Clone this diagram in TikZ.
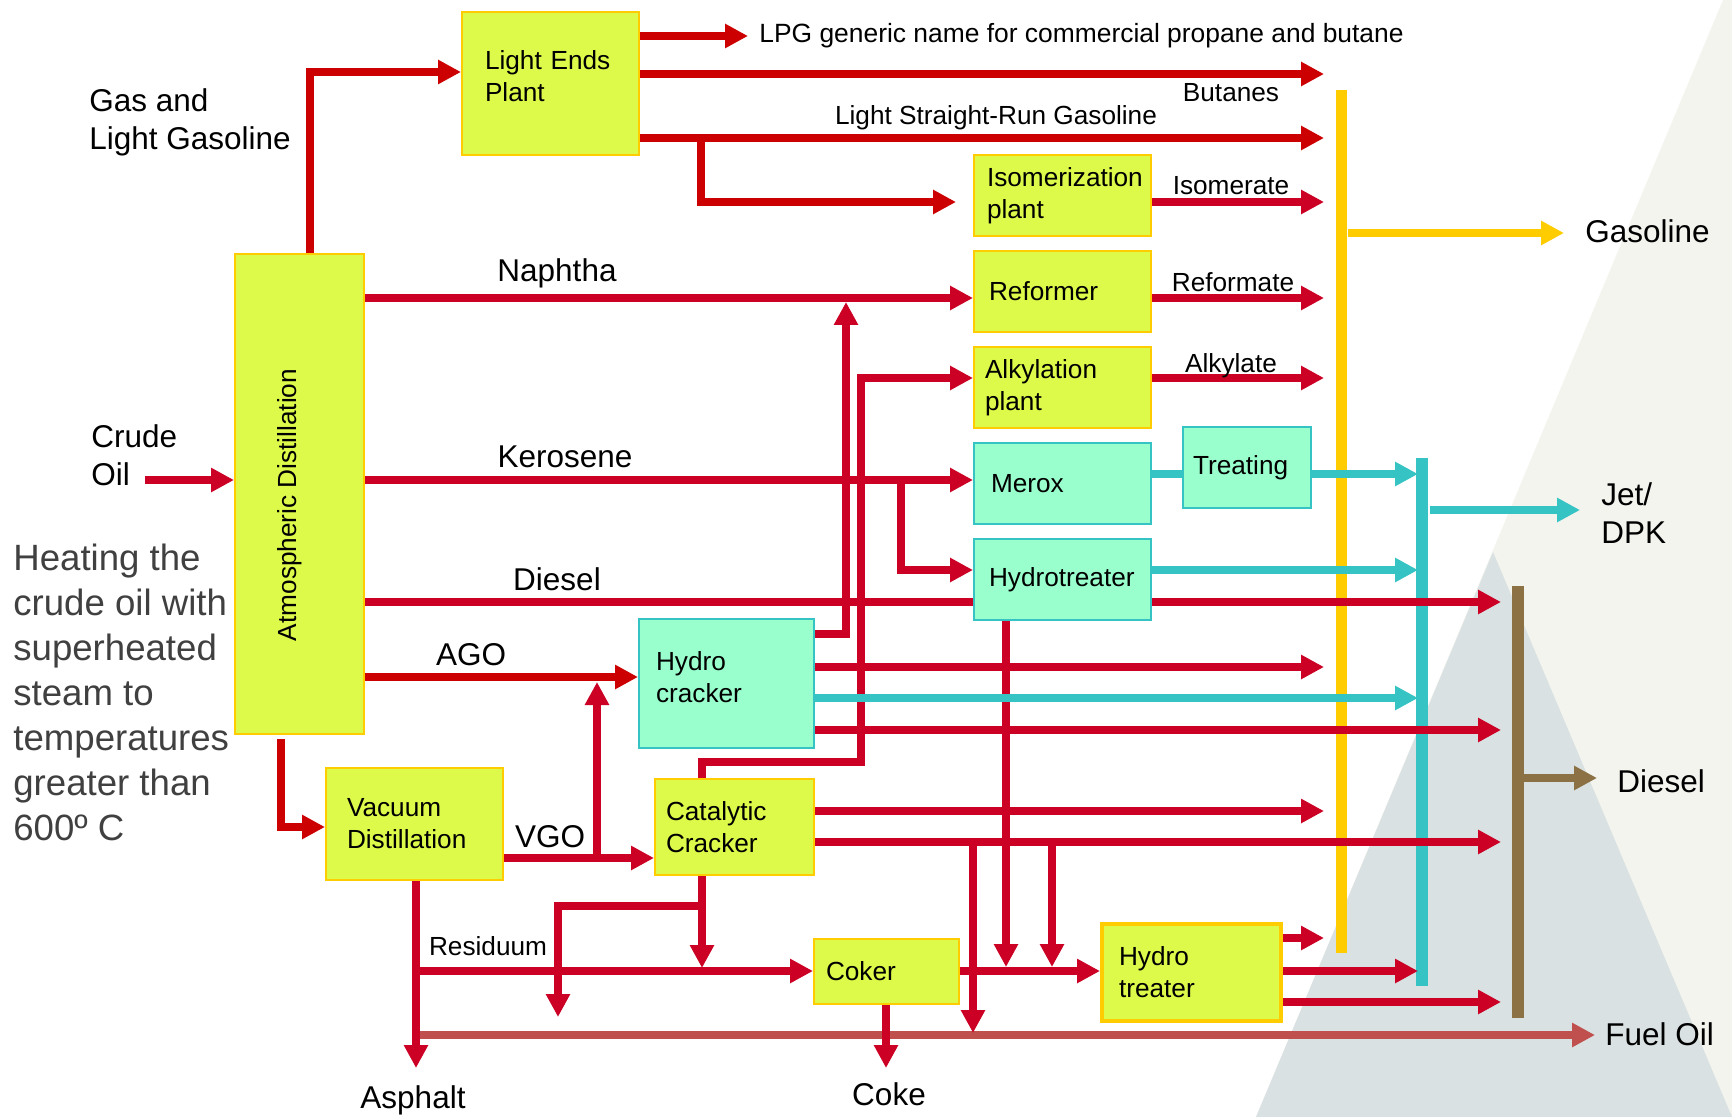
\documentclass[tikz,border=0pt]{standalone}
\usepackage{fontspec}
\setmainfont{Liberation Sans}
\usetikzlibrary{arrows.meta}
\definecolor{yFill}{HTML}{DDF94A}
\definecolor{yLine}{HTML}{FFCC00}
\definecolor{cFill}{HTML}{99FFCC}
\definecolor{cLine}{HTML}{36C3C3}
\definecolor{redA}{HTML}{CC0000}
\definecolor{redB}{HTML}{CC0025}
\definecolor{cGold}{HTML}{FFCC00}
\definecolor{cBrown}{HTML}{8B7143}
\definecolor{cFuel}{HTML}{C0504D}
\definecolor{cBeige}{HTML}{F3F4EE}
\definecolor{cTri}{HTML}{D9E1E2}
\definecolor{cGrayT}{HTML}{404040}
\newcommand\szS{\fontsize{13.1}{16}\selectfont\hyphenpenalty=10000 }
\newcommand\szL{\fontsize{15.75}{19}\selectfont}
\newcommand\szH{\fontsize{18.3}{22.5}\selectfont}
\newcommand\szP{\fontsize{13.2}{16}\selectfont}
\begin{document}
\begin{tikzpicture}[x=0.5pt,y=-0.5pt,
  arrhd/.style={-{Triangle[length=11.5pt,width=11.5pt]}},
  redln/.style={draw=redB,line width=3.6pt},
  redlnA/.style={draw=redA,line width=3.6pt},
  redar/.style={redln,arrhd},
  redarA/.style={redlnA,arrhd},
  cyanln/.style={draw=cLine,line width=3.6pt},
  cyanar/.style={cyanln,arrhd},
  goldar/.style={draw=cGold,line width=3.8pt,arrhd},
  brownar/.style={draw=cBrown,line width=3.8pt,arrhd},
  fuelar/.style={draw=cFuel,line width=3.8pt,arrhd},
  ybox/.style={draw=yLine,fill=yFill,line width=1pt,inner ysep=0pt,align=left,anchor=north west,font=\szS},
  cbox/.style={ybox,draw=cLine,fill=cFill},
  bsize/.style n args={4}{minimum width=#1,minimum height=#2,inner xsep=#3,text width=#4},
  lbl/.style={inner sep=0pt,font=\szS,anchor=base},
  lblL/.style={inner sep=0pt,font=\szL,anchor=base},
  side/.style={inner sep=0pt,font=\szL,align=left,anchor=base west}
]
% background
\fill[white] (0,0) rectangle (1732,1117);
\useasboundingbox (0,0) rectangle (1732,1117);
\fill[cBeige] (1723,0) -- (1732,0) -- (1732,1117) -- (1256,1117) -- cycle;
\fill[cTri] (1493,552) -- (1732,1117) -- (1256,1117) -- cycle;

% collector bars
\node[fill=cGold,inner sep=0pt,minimum width=5.85pt,minimum height=431.5pt,anchor=north] (gbar) at (1341.5,90) {};
\node[fill=cLine,inner sep=0pt,minimum width=6pt,minimum height=264pt,anchor=north] (cbar) at (1422,458) {};
\node[fill=cBrown,inner sep=0pt,minimum width=6pt,minimum height=216pt,anchor=north] (bbar) at (1517.5,586) {};

% boxes
\node[ybox,bsize={88.5pt}{71.5pt}{11.5pt}{65.5pt}] (LE) at (461,11) {Light Ends\\Plant\rule[-7pt]{0pt}{1pt}};
\node[ybox,minimum width=64.5pt,minimum height=240pt] (AD) at (234,253) {};
\node[ybox,bsize={88.5pt}{40.5pt}{6.5pt}{75.5pt}] (ISO) at (973,154) {Isomerization\\plant};
\node[ybox,bsize={88.5pt}{40.5pt}{7.5pt}{73.5pt}] (REF) at (973,250) {Reformer};
\node[ybox,bsize={88.5pt}{40.5pt}{5.5pt}{77.5pt}] (ALK) at (973,346) {Alkylation\\plant};
\node[cbox,bsize={88.5pt}{40.5pt}{8.5pt}{71.5pt}] (MER) at (973,442) {Merox};
\node[cbox,bsize={64pt}{40.5pt}{5pt}{54pt}] (TRT) at (1182,426) {Treating};
\node[cbox,bsize={88.5pt}{40.5pt}{7.5pt}{73.5pt}] (HT) at (973,538) {Hydrotreater};
\node[cbox,bsize={87.5pt}{64.5pt}{8.5pt}{70.5pt}] (HC) at (638,618) {Hydro\\cracker\rule[-6.5pt]{0pt}{1pt}};
\node[ybox,bsize={88.5pt}{56pt}{10.5pt}{67.5pt}] (VAC) at (325,767) {Vacuum\\Distillation};
\node[ybox,bsize={79.5pt}{48pt}{5.5pt}{68.5pt}] (CC) at (654,778) {Catalytic\\Cracker};
\node[ybox,bsize={72.5pt}{32.5pt}{6pt}{60.5pt}] (COK) at (813,938) {Coker};
\node[ybox,line width=2pt,bsize={89.5pt}{48.5pt}{8.5pt}{72.5pt}] (HT2) at (1100,922) {Hydro\\treater};
\node[inner sep=0pt,font=\szS,rotate=90] (ADt) at (290,505) {Atmospheric Distillation};

% coordinates
\coordinate (gx) at (1324,0);
\coordinate (cx) at (1418,0);
\coordinate (bx) at (1501,0);
\coordinate (jLE) at (310,72);
\coordinate (tLPG) at (748,36);
\coordinate (yBut) at (0,74);
\coordinate (yLS) at (0,138);
\coordinate (jIso) at (701,202);
\coordinate (yNap) at (0,298);
\coordinate (yNapB) at (0,302);
\coordinate (jHCup) at (846,634);
\coordinate (jA1) at (702,762);
\coordinate (jA2) at (861,378);
\coordinate (yKer) at (0,480);
\coordinate (tCrude) at (145,480);
\coordinate (jK) at (901,570);
\coordinate (yTr) at (0,474);
\coordinate (yDie) at (0,602);
\coordinate (jHT) at (1006,967);
\coordinate (yHC1) at (0,667);
\coordinate (yHC2) at (0,698);
\coordinate (yHC3) at (0,730);
\coordinate (yAGO) at (0,677);
\coordinate (yAGOb) at (0,682);
\coordinate (jV) at (597,858);
\coordinate (jVac) at (281,827);
\coordinate (yCC1) at (0,811);
\coordinate (yCC2) at (0,842);
\coordinate (jD1) at (973,1033);
\coordinate (jD2) at (1052,967);
\coordinate (jCCb) at (702,968);
\coordinate (jR1) at (702,906);
\coordinate (jR2) at (558,1017);
\coordinate (jAs) at (416,1068);
\coordinate (yRes) at (0,971);
\coordinate (jCoke) at (886,1068);
\coordinate (yH1) at (0,938);
\coordinate (yH3) at (0,1002);
\coordinate (jFO) at (416,1035);
\coordinate (tFO) at (1595,1035);
\coordinate (tGas) at (1564,233);
\coordinate (tJet) at (1580,510);
\coordinate (tDie) at (1597,778);

% fuel oil
\draw[fuelar] (jFO) -- (tFO);

% light ends
\draw[redarA] (AD.north -| jLE) |- (LE.west |- jLE);
\draw[redarA] (LE.east |- tLPG) -- (tLPG);
\draw[redarA] (LE.east |- yBut) -- (gx |- yBut);
\draw[redarA] (LE.east |- yLS) -- (gx |- yLS);
\draw[redarA] (jIso |- yLS) -- (jIso) -- ([xshift=-8.5pt]ISO.west |- jIso);
\draw[redar] (ISO.east |- jIso) -- (gx |- jIso);
% naphtha
\draw[redar] (AD.east |- yNap) -- (REF.west |- yNap);
\draw[redar] (REF.east |- yNap) -- (gx |- yNap);
\draw[redar] (HC.east |- jHCup) -- (jHCup) -- (jHCup |- yNapB);
% alkylation
\draw[redar] (CC.north -| jA1) -- (jA1) -| (jA2) -- (ALK.west |- jA2);
\draw[redar] (ALK.east |- jA2) -- (gx |- jA2);
% crude, kerosene
\draw[redar] (tCrude) -- (AD.west |- tCrude);
\draw[redar] (AD.east |- yKer) -- (MER.west |- yKer);
\draw[redar] (jK |- yKer) -- (jK) -- (HT.west |- jK);
\draw[cyanln] (MER.east |- yTr) -- (TRT.west |- yTr);
\draw[cyanar] (TRT.east |- yTr) -- (cx |- yTr);
\draw[cyanar] (HT.east |- jK) -- (cx |- jK);
% diesel
\draw[redln] (AD.east |- yDie) -- (HT.west |- yDie);
\draw[redar] (HT.east |- yDie) -- (bx |- yDie);
\draw[redar] (HT.south -| jHT) -- (jHT);
% hydrocracker
\draw[redar] (HC.east |- yHC1) -- (gx |- yHC1);
\draw[cyanar] (HC.east |- yHC2) -- (cx |- yHC2);
\draw[redar] (HC.east |- yHC3) -- (bx |- yHC3);
\draw[redarA] (AD.east |- yAGO) -- (HC.west |- yAGO);
\draw[redar] (jV) -- (jV |- yAGOb);
% vacuum
\draw[redarA] ([yshift=-2pt]AD.south -| jVac) -- (jVac) -- (VAC.west |- jVac);
\draw[redar] (VAC.east |- jV) -- (CC.west |- jV);
% catalytic cracker
\draw[redar] (CC.east |- yCC1) -- (gx |- yCC1);
\draw[redar] (CC.east |- yCC2) -- (bx |- yCC2);
\draw[redar] (jD1 |- yCC2) -- (jD1);
\draw[redar] (jD2 |- yCC2) -- (jD2);
\draw[redar] (CC.south -| jCCb) -- (jCCb);
\draw[redar] (jR1) -| (jR2);
% residuum, coker
\draw[redar] (VAC.south -| jAs) -- (jAs);
\draw[redar] (jAs |- yRes) -- (COK.west |- yRes);
\draw[redar] (COK.east |- yRes) -- (HT2.west |- yRes);
\draw[redar] (COK.south -| jCoke) -- (jCoke);
% hydro treater
\draw[redar] (HT2.east |- yH1) -- (gx |- yH1);
\draw[redar] (HT2.east |- yRes) -- (cx |- yRes);
\draw[redar] (HT2.east |- yH3) -- (bx |- yH3);
% outputs
\draw[goldar] (gbar.east |- tGas) -- (tGas);
\draw[cyanar] ([xshift=1pt]cbar.east |- tJet) -- (tJet);
\draw[brownar] (bbar.east |- tDie) -- (tDie);

% labels
\node[inner sep=0pt,font=\szP,anchor=base west] (lpg) at (759,43) {LPG generic name for commercial propane and butane};
\node[lbl] (but) at (1231,102) {Butanes};
\node[lbl] (lsrg) at (996,125) {Light Straight-Run Gasoline};
\node[lbl] (isom) at (1231,195) {Isomerate};
\node[lbl] (refm) at (1233,292) {Reformate};
\node[lbl] (alky) at (1231,372) {Alkylate};
\node[lblL] (nap) at (557,282) {Naphtha};
\node[lblL] (ker) at (565,467) {Kerosene};
\node[lblL] (dsl) at (557,590) {Diesel};
\node[lblL] (ago) at (471,665) {AGO};
\node[lblL] (vgo) at (550,847) {VGO};
\node[lbl] (res) at (488,955) {Residuum};
\node[lblL] (asp) at (413,1108) {Asphalt};
\node[lblL] (coke) at (889,1105) {Coke};
\node[side] (gasl) at (89,150) {Gas and\\Light Gasoline};
\node[side] (crude) at (91,485) {Crude\\Oil};
\node[side] (gasol) at (1585,243) {Gasoline};
\node[side] (jet) at (1601,543) {Jet/\\DPK};
\node[side] (dslo) at (1617,792) {Diesel};
\node[side] (fuel) at (1605,1045) {Fuel Oil};
\node[side,font=\szH,text=cGrayT] (heat) at (13,840) {Heating the\\crude oil with\\superheated\\steam to\\temperatures\\greater than\\600º C};
\end{tikzpicture}
\end{document}
